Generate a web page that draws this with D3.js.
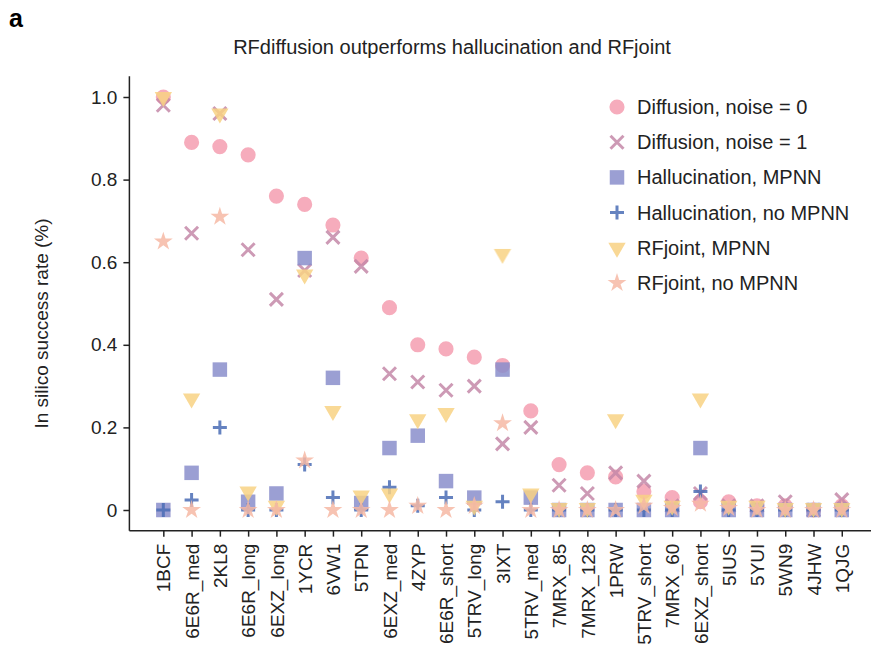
<!DOCTYPE html>
<html>
<head>
	<title>RFdiffusion benchmark</title>
	<style type="text/css">
		body {
			margin: 0;
			background: #fff;
			font-family: "Liberation Sans", Arial, Helvetica, sans-serif;
		}
		.axis path, .axis line {
			stroke: #222;
			stroke-width: 1.5;
		}
		.axis text {
			font-size: 19px;
			fill: #222;
		}
		.legend-text {
			font-size: 20px;
			fill: #222;
		}
	</style>
</head>
<body>
	<div id="chart"></div>
	<script src="https://cdnjs.cloudflare.com/ajax/libs/d3/7.8.5/d3.min.js"></script>
	<script type="text/javascript">
		var categories = ["1BCF", "6E6R_med", "2KL8", "6E6R_long", "6EXZ_long", "1YCR", "6VW1", "5TPN",
			"6EXZ_med", "4ZYP", "6E6R_short", "5TRV_long", "3IXT", "5TRV_med", "7MRX_85", "7MRX_128",
			"1PRW", "5TRV_short", "7MRX_60", "6EXZ_short", "5IUS", "5YUI", "5WN9", "4JHW", "1QJG"];

		var diffNoise0 = [1.0, 0.89, 0.88, 0.86, 0.76, 0.74, 0.69, 0.61, 0.49, 0.40, 0.39, 0.37, 0.35,
			0.24, 0.11, 0.09, 0.08, 0.045, 0.03, 0.02, 0.02, 0.01, 0.01, 0.0, 0.01];
		var diffNoise1 = [0.98, 0.67, 0.96, 0.63, 0.51, 0.58, 0.66, 0.59, 0.33, 0.31, 0.29, 0.30, 0.16,
			0.20, 0.06, 0.04, 0.09, 0.07, 0.01, 0.04, 0.01, 0.01, 0.02, 0.0, 0.025];
		var hallMPNN = [0.0, 0.09, 0.34, 0.02, 0.04, 0.61, 0.32, 0.017, 0.15, 0.18, 0.07, 0.03, 0.34,
			0.03, 0.0, 0.0, 0.0, 0.0, 0.0, 0.15, 0.0, 0.0, 0.0, 0.0, 0.0];
		var hallNoMPNN = [0.0, 0.024, 0.20, 0.0, 0.0, 0.11, 0.03, 0.0, 0.055, 0.01, 0.03, 0.0, 0.02,
			0.0, 0.0, 0.0, 0.0, 0.0, 0.0, 0.045, 0.0, 0.0, 0.0, 0.0, 0.0];
		var rfjointMPNN = [1.0, 0.27, 0.96, 0.045, 0.01, 0.57, 0.24, 0.035, 0.04, 0.22, 0.235, 0.01, 0.62,
			0.04, 0.005, 0.005, 0.22, 0.025, 0.01, 0.27, 0.01, 0.01, 0.005, 0.005, 0.005];
		var rfjointNoMPNN = [0.65, 0.0, 0.71, 0.0, 0.0, 0.12, 0.0, 0.0, 0.0, 0.01, 0.0, 0.01, 0.21,
			0.0, 0.0, 0.0, 0.0, 0.01, 0.005, 0.015, 0.005, 0.0, 0.0, 0.0, 0.0];

		var yTicks = [0, 0.2, 0.4, 0.6, 0.8, 1.0];

		var series = [
			{label: "Diffusion, noise = 0", values: diffNoise0, shape: "circle", color: "#f59eb0"},
			{label: "Diffusion, noise = 1", values: diffNoise1, shape: "x", color: "#c488a8"},
			{label: "Hallucination, MPNN", values: hallMPNN, shape: "square", color: "#8a8ecb"},
			{label: "Hallucination, no MPNN", values: hallNoMPNN, shape: "plus", color: "#4a6db5"},
			{label: "RFjoint, MPNN", values: rfjointMPNN, shape: "triangle", color: "#f8d283"},
			{label: "RFjoint, no MPNN", values: rfjointNoMPNN, shape: "star", color: "#f6b9a4"}
		];

		var width = 871,
			height = 665;

		var svg = d3.select("#chart")
			.append("svg")
			.attr("width", width)
			.attr("height", height);

		// scales: matplotlib style 5% margins
		var x = d3.scaleLinear()
			.domain([-1.2, categories.length - 1 + 1.2])
			.range([129.4, 875.7]);

		var y = d3.scaleLinear()
			.domain([0, 1])
			.range([510, 97]);

		var yLow = y(-0.05), yHigh = y(1.05);

		// panel letter + title
		svg.append("text")
			.attr("x", 9)
			.attr("y", 27)
			.attr("font-size", "25px")
			.attr("font-weight", "bold")
			.text("a");

		svg.append("text")
			.attr("x", 452)
			.attr("y", 54)
			.attr("text-anchor", "middle")
			.attr("font-size", "20px")
			.attr("fill", "#222")
			.text("RFdiffusion outperforms hallucination and RFjoint");

		// y axis
		var yAxis = svg.append("g")
			.attr("class", "axis")
			.attr("transform", "translate(" + x.range()[0] + ",0)")
			.call(d3.axisLeft(y).tickValues(yTicks).tickSize(6).tickPadding(6)
				.tickFormat(function(d) { return d === 0 ? "0" : d3.format(".1f")(d); }));
		yAxis.select(".domain").attr("d", "M0," + yHigh + "V" + yLow);

		svg.append("text")
			.attr("transform", "translate(48," + ((yLow + yHigh) / 2 + 20) + ") rotate(-90)")
			.attr("text-anchor", "middle")
			.attr("font-size", "19px")
			.attr("fill", "#222")
			.text("In silico success rate (%)");

		// x axis
		var xAxis = svg.append("g")
			.attr("class", "axis")
			.attr("transform", "translate(0," + yLow + ")")
			.call(d3.axisBottom(x).tickValues(d3.range(categories.length)).tickSize(6).tickPadding(8)
				.tickFormat(function(i) { return categories[i]; }));
		xAxis.select(".domain").attr("d", "M" + x.range()[0] + ",0H" + x.range()[1]);
		xAxis.selectAll("text")
			.attr("transform", "rotate(-90)")
			.attr("text-anchor", "end")
			.attr("x", -13)
			.attr("y", 0)
			.attr("dy", "0.35em");

		// marker drawing
		function drawMarker(sel, shape, color) {
			if (shape === "x") {
				sel.append("path")
					.attr("d", "M-6.5,-6.5L6.5,6.5M-6.5,6.5L6.5,-6.5")
					.attr("stroke", color).attr("stroke-width", 3).attr("fill", "none");
			} else if (shape === "plus") {
				sel.append("path")
					.attr("d", "M-7,0H7M0,-7V7")
					.attr("stroke", color).attr("stroke-width", 3).attr("fill", "none");
			} else {
				var sym = {
					circle: d3.symbol().type(d3.symbolCircle).size(180),
					square: d3.symbol().type(d3.symbolSquare).size(210),
					triangle: d3.symbol().type(d3.symbolTriangle).size(130),
					star: d3.symbol().type(d3.symbolStar).size(110)
				}[shape];
				sel.append("path")
					.attr("d", sym)
					.attr("transform", shape === "triangle" ? "rotate(180)" : null)
					.attr("fill", color);
			}
		}

		series.forEach(function(s) {
			var g = svg.append("g").attr("opacity", 0.85);
			g.selectAll("g")
				.data(s.values)
				.enter()
				.append("g")
				.attr("transform", function(d, i) { return "translate(" + x(i) + "," + y(d) + ")"; })
				.each(function() { drawMarker(d3.select(this), s.shape, s.color); });
		});

		// legend
		var legend = svg.append("g").attr("transform", "translate(617,107)");
		series.forEach(function(s, i) {
			var row = legend.append("g").attr("transform", "translate(0," + (i * 35.2) + ")");
			drawMarker(row.append("g").attr("opacity", 0.85), s.shape, s.color);
			row.append("text")
				.attr("class", "legend-text")
				.attr("x", 20)
				.attr("y", 0)
				.attr("dy", "0.35em")
				.text(s.label);
		});
	</script>
</body>
</html>
